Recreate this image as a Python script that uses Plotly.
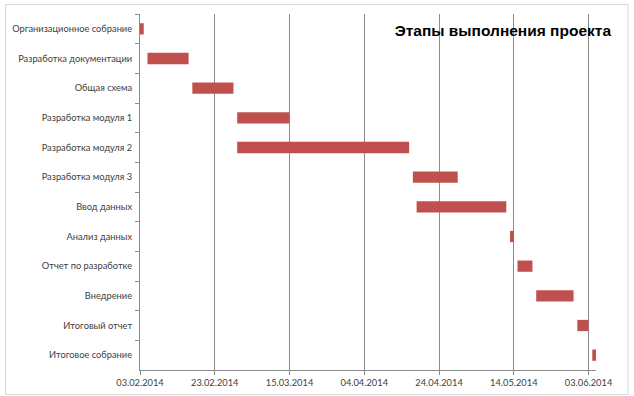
import plotly.graph_objects as go

tasks = [
    "Организационное собрание",
    "Разработка документации",
    "Общая схема",
    "Разработка модуля 1",
    "Разработка модуля 2",
    "Разработка модуля 3",
    "Ввод данных",
    "Анализ данных",
    "Отчет по разработке",
    "Внедрение",
    "Итоговый отчет",
    "Итоговое собрание",
]
start_dates = [
    "2014-02-03", "2014-02-05", "2014-02-17", "2014-03-01", "2014-03-01", "2014-04-17",
    "2014-04-18", "2014-05-13", "2014-05-15", "2014-05-20", "2014-05-31", "2014-06-04",
]
durations_days = [1, 11, 11, 14, 46, 12, 24, 1, 4, 10, 3, 1]

tick_dates = ["2014-02-03", "2014-02-23", "2014-03-15", "2014-04-04",
              "2014-04-24", "2014-05-14", "2014-06-03"]
tick_labels = ["03.02.2014", "23.02.2014", "15.03.2014", "04.04.2014",
               "24.04.2014", "14.05.2014", "03.06.2014"]
x_range = ["2014-02-03", "2014-06-05"]

title_text = "Этапы выполнения проекта"

DAY_MS = 86400000
fig = go.Figure()
fig.add_trace(go.Bar(
    y=tasks,
    x=[d * DAY_MS for d in durations_days],
    base=start_dates,
    orientation="h",
    marker=dict(color="#C0504D", line=dict(width=0)),
    width=0.38,
    hoverinfo="skip",
))

W, H = 634, 396
L, R, T, B = 140, 596, 14, 370
LABEL_FONT = "Lato, Liberation Sans, Arial, sans-serif"
fig.update_layout(
    width=W, height=H,
    margin=dict(l=L, r=W - R, t=T, b=H - B, autoexpand=False),
    paper_bgcolor="white", plot_bgcolor="white",
    showlegend=False,
    font=dict(family=LABEL_FONT, size=9.3, color="#404040"),
    title=dict(
        text=title_text,
        x=611 / W, xanchor="right", xref="container",
        y=1 - 31 / H, yanchor="middle", yref="container",
        font=dict(family="Liberation Sans, Arial, sans-serif", size=15.5, color="#000000", weight="bold"),
    ),
    xaxis=dict(
        type="date",
        range=x_range,
        tickvals=tick_dates,
        ticktext=tick_labels,
        showgrid=True, gridcolor="#8C8C8C", gridwidth=1,
        showline=True, linecolor="#8C8C8C", linewidth=1,
        ticks="outside", ticklen=4, tickcolor="#8C8C8C",
        zeroline=False,
        automargin=False,
        tickfont=dict(size=9.3, color="#404040"),
    ),
    yaxis=dict(
        type="category",
        categoryorder="array", categoryarray=tasks,
        range=[11.5, -0.5],
        showgrid=False,
        showline=True, linecolor="#8C8C8C", linewidth=1,
        ticks="outside", ticklen=4, tickcolor="#8C8C8C",
        tickson="boundaries",
        ticklabelstandoff=5,
        automargin=False,
        tickfont=dict(size=9.3, color="#404040"),
    ),
    shapes=[dict(
        type="rect", xref="paper", yref="paper",
        x0=(5.5 - L) / (R - L), x1=(628 - L) / (R - L),
        y0=(B - 394.5) / (B - T), y1=(B - 4.5) / (B - T),
        line=dict(color="#D9D9D9", width=1), fillcolor="rgba(0,0,0,0)",
        layer="below",
    )],
)

fig.write_html(
    "out.html",
    config={"displayModeBar": False},
    post_script="document.body.style.margin='0px';document.body.style.padding='0px';",
)
